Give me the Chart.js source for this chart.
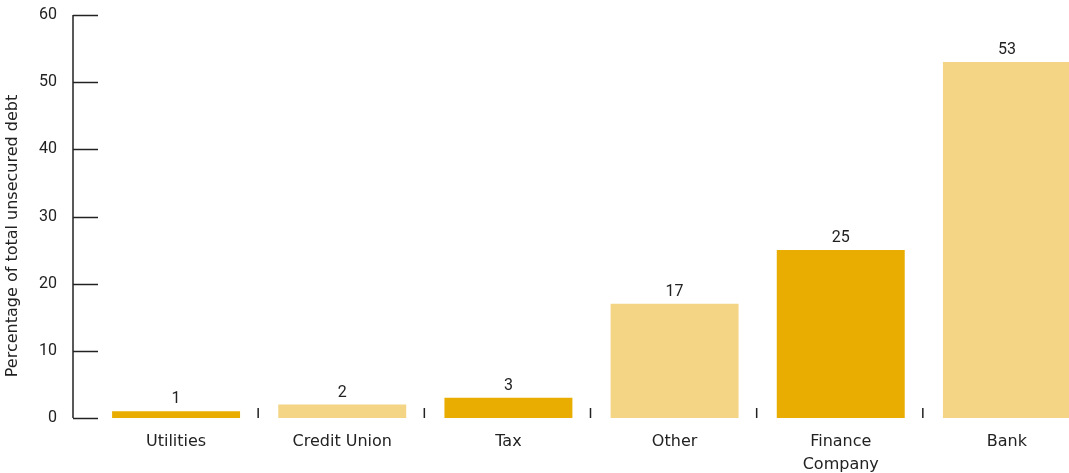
<!DOCTYPE html>
<html>
<script src="https://cdn.jsdelivr.net/npm/chart.js@4.4.1/dist/chart.umd.min.js"></script>
<style>
  body { margin: 0; overflow: hidden; background: #fff; }
  #wrap { width: 1090px; height: 473px; }
</style>
<body>

<div id="wrap"><canvas id="debtChart" width="1090" height="473"></canvas></div>

<script>

const lenders = ["Utilities", "Credit Union", "Tax", "Other", ["Finance", "Company"], "Bank"];
const shares = [1, 2, 3, 17, 25, 53];
const yTicks = [0, 10, 20, 30, 40, 50, 60];
const yTitle = "Percentage of total unsecured debt";

const dark = "#E9AC00";
const light = "#F3D585";
const ink = "#222222";
const numFont = "Roboto, sans-serif";
const textFont = "'DejaVu Sans', sans-serif";

// axis line, inner tick marks, separators, value labels, y title
const extras = {
  id: "extras",
  afterDraw(chart) {
    const ctx = chart.ctx;
    const area = chart.chartArea;
    const x = chart.scales.x;
    const y = chart.scales.y;
    const axisX = area.left - 20;

    ctx.save();
    ctx.strokeStyle = ink;
    ctx.lineWidth = 1.5;

    ctx.beginPath();
    ctx.moveTo(axisX, y.getPixelForValue(yTicks[yTicks.length - 1]));
    ctx.lineTo(axisX, y.getPixelForValue(0));
    ctx.stroke();

    yTicks.forEach(v => {
      const py = Math.round(y.getPixelForValue(v)) + 0.5;
      ctx.beginPath();
      ctx.moveTo(axisX, py);
      ctx.lineTo(axisX + 25, py);
      ctx.stroke();
    });

    // little marks between the categories
    for (let i = 0; i < lenders.length - 1; i++) {
      const px = (x.getPixelForValue(i) + x.getPixelForValue(i + 1)) / 2 - 1;
      ctx.beginPath();
      ctx.moveTo(px, area.bottom - 10);
      ctx.lineTo(px, area.bottom);
      ctx.stroke();
    }

    ctx.fillStyle = ink;
    ctx.font = "16px " + numFont;
    ctx.textAlign = "center";
    ctx.textBaseline = "alphabetic";
    chart.getDatasetMeta(0).data.forEach((bar, i) => {
      ctx.fillText(String(shares[i]), bar.x, bar.y - 8);
    });

    ctx.translate(13, 236);
    ctx.rotate(-Math.PI / 2);
    ctx.font = "16px " + textFont;
    ctx.textBaseline = "middle";
    ctx.fillText(yTitle, 0, 0);
    ctx.restore();
  }
};

new Chart("debtChart", {
  type: "bar",
  data: {
    labels: lenders,
    datasets: [{
      data: shares,
      backgroundColor: shares.map((v, i) => i % 2 === 0 ? dark : light),
      categoryPercentage: 1,
      barPercentage: 0.77
    }]
  },
  options: {
    responsive: false,
    animation: false,
    layout: { padding: { top: 15, left: 0, right: 0, bottom: 0 } },
    plugins: {
      legend: { display: false },
      tooltip: { enabled: false }
    },
    scales: {
      x: {
        grid: { display: false, drawTicks: false },
        border: { display: false },
        ticks: {
          color: ink,
          padding: 13,
          maxRotation: 0,
          autoSkip: false,
          font: { family: textFont, size: 16, lineHeight: 1.4 }
        },
        afterFit(scale) { scale.height = 55; scale.paddingTop = 0; scale.paddingBottom = 0; }
      },
      y: {
        min: 0,
        max: 60,
        grid: { display: false, drawTicks: false },
        border: { display: false },
        ticks: {
          stepSize: 10,
          color: ink,
          padding: 36,
          font: { family: numFont, size: 16 }
        },
        afterFit(scale) { scale.width = 93; scale.paddingTop = 0; scale.paddingBottom = 0; }
      }
    }
  },
  plugins: [extras]
});

</script>

</body>
</html>
